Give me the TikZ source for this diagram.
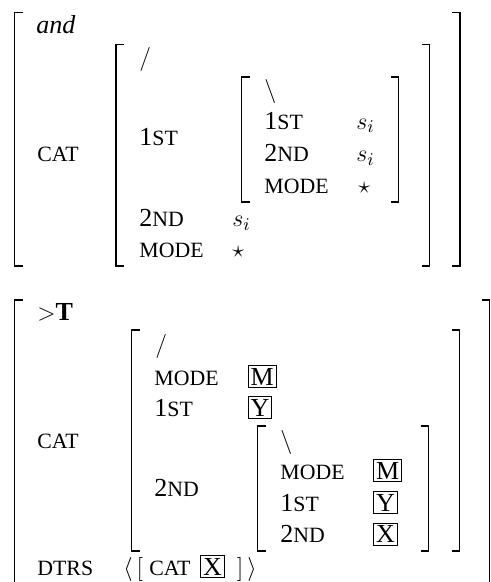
\documentclass[tikz,border=0pt]{standalone}
\usepackage{fontspec}
\setmainfont{Liberation Serif}
\newcommand{\fsc}[1]{{\fontsize{10.9}{12}\selectfont #1}}
\newcommand{\tagbox}[1]{{\setlength{\fboxsep}{1pt}\setlength{\fboxrule}{0.4pt}\fbox{#1}}}
\tikzset{
  feat/.style={anchor=base west, inner sep=0pt, font=\fontsize{13}{15}\selectfont},
  brk/.style={line width=0.8pt}
}
\begin{document}
\begin{tikzpicture}[x=0.5pt, y=-0.5pt]
  \useasboundingbox (0,0) rectangle (491,582);

  % brackets: left x / right x / top / bottom
  \foreach \l/\r/\t/\b in {14.5/460/12.5/266, 116/429.5/44.5/266, 241.5/398.5/77/202,
                           14.5/489.5/300/600, 131.5/459.5/330/551, 257.5/428.5/426/551}
  {
    \draw[brk] (\l+8,\t) -- (\l,\t) -- (\l,\b) -- (\l+8,\b);
    \draw[brk] (\r-8,\t) -- (\r,\t) -- (\r,\b) -- (\r-8,\b);
  }

  % upper structure
  \node[feat] (and) at (36,33.3) {\textit{and}};
  \node[feat] (cat1) at (37,162) {\fsc{CAT}};
  \node[feat] (sl1) at (139,66) {$/$};
  \node[feat] (fst1) at (139,146) {1\fsc{ST}};
  \node[feat] (bs2) at (264,98) {$\backslash$};
  \node[feat] (fst2) at (264,129.3) {1\fsc{ST}};
  \node[feat] (fst2v) at (356,129.3) {$s_i$};
  \node[feat] (snd2) at (264,161.7) {2\fsc{ND}};
  \node[feat] (snd2v) at (356,161.7) {$s_i$};
  \node[feat] (mode2) at (264,194) {\fsc{MODE}};
  \node[feat] (mode2v) at (358,194) {$\star$};
  \node[feat] (snd1) at (139,226.7) {2\fsc{ND}};
  \node[feat] (snd1v) at (232,226.7) {$s_i$};
  \node[feat] (mode1) at (139,257.3) {\fsc{MODE}};
  \node[feat] (mode1v) at (232,257.3) {$\star$};

  % lower structure
  \node[feat] (gt) at (37,320) {$>$\textbf{T}};
  \node[feat] (sl3) at (155,352) {$/$};
  \node[feat] (mode3) at (154,385) {\fsc{MODE}};
  \node[feat] (mode3v) at (247.5,385) {\tagbox{M}};
  \node[feat] (fst3) at (154,416) {1\fsc{ST}};
  \node[feat] (fst3v) at (247.5,416) {\tagbox{Y}};
  \node[feat] (cat3) at (37,448.3) {\fsc{CAT}};
  \node[feat] (bs4) at (280,448) {$\backslash$};
  \node[feat] (mode4) at (280,479.3) {\fsc{MODE}};
  \node[feat] (mode4v) at (373,479.3) {\tagbox{M}};
  \node[feat] (snd3) at (154,496) {2\fsc{ND}};
  \node[feat] (fst4) at (280,511) {1\fsc{ST}};
  \node[feat] (fst4v) at (373,511) {\tagbox{Y}};
  \node[feat] (snd4) at (280,542.7) {2\fsc{ND}};
  \node[feat] (snd4v) at (373,542.7) {\tagbox{X}};
  \node[feat] (dtrs) at (37,575) {\fsc{DTRS}};
  \node[feat] (dtrsv) at (123,575) {$\langle\,[$\hspace{3pt}\fsc{CAT}\hspace{5pt}\tagbox{X}\hspace{6pt}$]\,\rangle$};
\end{tikzpicture}
\end{document}
